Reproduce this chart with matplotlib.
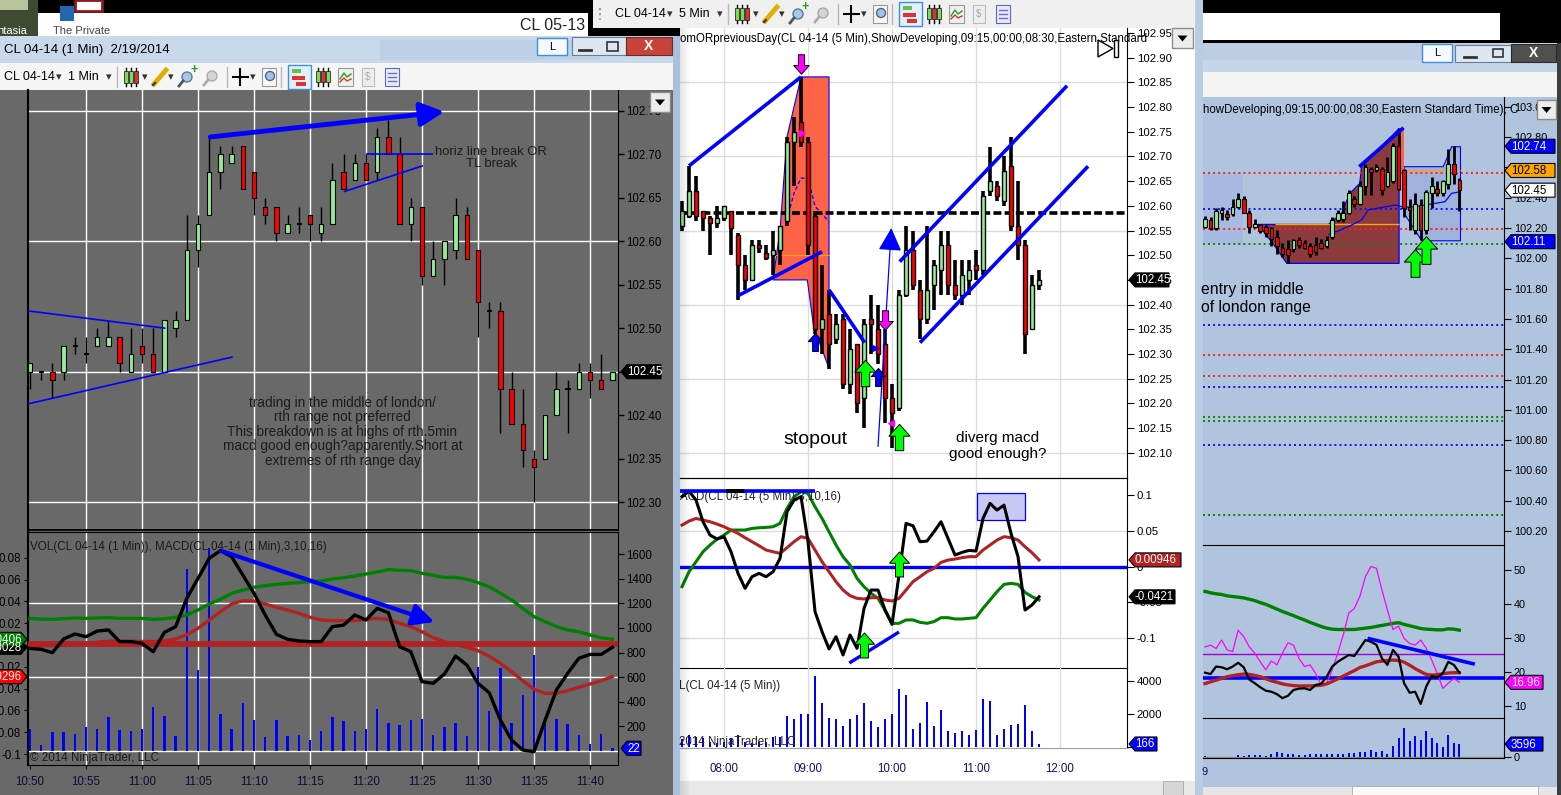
import numpy as np
import matplotlib
matplotlib.use('Agg')
import matplotlib.pyplot as plt
from matplotlib.patches import Rectangle, Polygon, Circle
from matplotlib.path import Path

plt.rcParams['font.family'] = ['Liberation Sans', 'DejaVu Sans']

# ---------------- left window: CL 04-14 (1 Min) ----------------
L_start, L_step = '10:50', 1
L_open = [102.45, 102.45, 102.45, 102.45, 102.48, 102.47, 102.48, 102.48, 102.49, 102.45,
          102.48, 102.47, 102.45, 102.50, 102.51, 102.59, 102.63, 102.68, 102.69, 102.71,
          102.68, 102.64, 102.64, 102.61, 102.62, 102.63, 102.61, 102.62, 102.68, 102.67,
          102.69, 102.68, 102.72, 102.70, 102.62, 102.64, 102.56, 102.58, 102.59, 102.63,
          102.59, 102.52, 102.52, 102.43, 102.39, 102.35, 102.35, 102.40, 102.43, 102.43,
          102.45, 102.44, 102.44]
L_high = [102.46, 102.45, 102.46, 102.48, 102.49, 102.49, 102.50, 102.51, 102.49, 102.50,
          102.50, 102.50, 102.51, 102.52, 102.63, 102.63, 102.72, 102.71, 102.71, 102.71,
          102.68, 102.65, 102.64, 102.63, 102.64, 102.63, 102.64, 102.69, 102.70, 102.70,
          102.70, 102.73, 102.74, 102.72, 102.65, 102.64, 102.60, 102.60, 102.65, 102.64,
          102.59, 102.53, 102.53, 102.45, 102.43, 102.36, 102.40, 102.45, 102.44, 102.46,
          102.46, 102.47, 102.45]
L_low = [102.43, 102.44, 102.42, 102.44, 102.47, 102.46, 102.48, 102.48, 102.45, 102.45,
         102.46, 102.45, 102.45, 102.49, 102.51, 102.57, 102.63, 102.66, 102.69, 102.66,
         102.63, 102.62, 102.60, 102.61, 102.61, 102.60, 102.60, 102.62, 102.66, 102.67,
         102.67, 102.67, 102.70, 102.62, 102.60, 102.55, 102.56, 102.55, 102.58, 102.58,
         102.49, 102.50, 102.38, 102.39, 102.34, 102.30, 102.35, 102.40, 102.38, 102.43,
         102.42, 102.43, 102.44]
L_close = [102.46, 102.45, 102.44, 102.48, 102.48, 102.47, 102.49, 102.49, 102.46, 102.47,
           102.47, 102.45, 102.51, 102.51, 102.59, 102.62, 102.68, 102.70, 102.70, 102.66,
           102.65, 102.63, 102.61, 102.62, 102.62, 102.62, 102.62, 102.67, 102.66, 102.69,
           102.67, 102.72, 102.70, 102.62, 102.64, 102.56, 102.58, 102.60, 102.63, 102.58,
           102.53, 102.52, 102.43, 102.39, 102.36, 102.34, 102.40, 102.43, 102.43, 102.45,
           102.44, 102.43, 102.45]
L_vol = [175, 47, 153, 153, 137, 195, 178, 274, 170, 162,
         178, 359, 285, 121, 1477, 655, 1650, 301, 178, 389,
         252, 112, 252, 121, 129, 88, 162, 274, 244, 162,
         178, 342, 227, 211, 252, 260, 129, 195, 230, 121,
         682, 326, 671, 227, 452, 778, 274, 260, 222, 129,
         55, 140, 22]
L_macd = [-0.0031, -0.0040, -0.0070, 0.0055, 0.0101, 0.0076, 0.0128, 0.0138, 0.0031, 0.0031,
          0.0015, -0.0061, 0.0116, 0.0168, 0.0428, 0.0611, 0.0795, 0.0865, 0.0810, 0.0642,
          0.0474, 0.0275, 0.0098, 0.0052, 0.0037, 0.0031, 0.0031, 0.0168, 0.0183, 0.0275,
          0.0229, 0.0336, 0.0296, -0.0015, -0.0061, -0.0336, -0.0351, -0.0266, -0.0101, -0.0183,
          -0.0351, -0.0437, -0.0688, -0.0871, -0.0963, -0.0978, -0.0688, -0.0413, -0.0260, -0.0122,
          -0.0086, -0.0086, -0.0021]
L_avg = [-0.0015, -0.0010, -0.0005, 0.0, 0.0008, 0.0015, 0.0025, 0.0035, 0.0037, 0.0035,
         0.0033, 0.0031, 0.0040, 0.0055, 0.0095, 0.0153, 0.0229, 0.0306, 0.0376, 0.0406,
         0.0403, 0.0376, 0.0345, 0.0321, 0.0290, 0.0254, 0.0229, 0.0223, 0.0223, 0.0223,
         0.0235, 0.0245, 0.0235, 0.0199, 0.0168, 0.0122, 0.0067, 0.0031, 0.0006, -0.0021,
         -0.0052, -0.0101, -0.0168, -0.0245, -0.0327, -0.0406, -0.0443, -0.0443, -0.0419, -0.0388,
         -0.0358, -0.0327, -0.0290]
L_green = [0.0244, 0.0238, 0.0235, 0.0241, 0.0248, 0.0244, 0.0248, 0.0251, 0.0244, 0.0244,
           0.0244, 0.0235, 0.0241, 0.0254, 0.0275, 0.0321, 0.0376, 0.0419, 0.0474, 0.0504,
           0.0529, 0.0544, 0.0556, 0.0565, 0.0572, 0.0581, 0.0587, 0.0605, 0.0617, 0.0633,
           0.0651, 0.0669, 0.0691, 0.0685, 0.0682, 0.0657, 0.0639, 0.0620, 0.0620, 0.0602,
           0.0572, 0.0535, 0.0474, 0.0413, 0.0336, 0.0260, 0.0214, 0.0168, 0.0138, 0.0122,
           0.0092, 0.0067, 0.0052]
L_zero_band = 0.0006
L_times = ['10:50', '10:55', '11:00', '11:05', '11:10', '11:15', '11:20', '11:25', '11:30', '11:35', '11:40']
L_price_ticks = [102.30, 102.35, 102.40, 102.45, 102.50, 102.55, 102.60, 102.65, 102.70, 102.75]
L_price_grid = [102.30, 102.45, 102.60, 102.75]
L_vol_ticks = [200, 400, 600, 800, 1000, 1200, 1400, 1600]
L_vol_grid = [0, 600, 1200]
L_macd_ticks = [-0.1, -0.08, -0.06, -0.04, -0.02, 0.0, 0.02, 0.04, 0.06, 0.08]
L_arrow_top = [(16.1, 102.720), (37.0, 102.749)]
L_hline = [(30.0, 102.700), (36.0, 102.700)]
L_tl = [(28.0, 102.657), (35.1, 102.687)]
L_tri_upper = [(-0.2, 102.520), (12.1, 102.500)]
L_tri_lower = [(-0.2, 102.413), (18.1, 102.467)]
L_macd_arrow = [(17.1, 0.0862), (36.1, 0.0211)]
L_flags_left = [('-0.0028', 'black'), ('0.0406', 'green'), ('-0.0296', 'red')]

# ---------------- middle window: CL 04-14 (5 Min) ----------------
M_start, M_step = '07:30', 5
M_open = [102.56, 102.58, 102.63, 102.59, 102.575, 102.565, 102.575, 102.59, 102.54, 102.48,
          102.45, 102.52, 102.505, 102.50, 102.51, 102.57, 102.73, 102.77, 102.73, 102.58,
          102.35, 102.38, 102.33, 102.37, 102.24, 102.32, 102.21, 102.37, 102.35, 102.32,
          102.21, 102.19, 102.42, 102.51, 102.43, 102.37, 102.44, 102.47, 102.52, 102.44,
          102.42, 102.45, 102.48, 102.47, 102.63, 102.64, 102.61, 102.68, 102.56, 102.52,
          102.35, 102.44]
M_high = [102.61, 102.68, 102.66, 102.59, 102.58, 102.60, 102.60, 102.59, 102.545, 102.50,
          102.53, 102.53, 102.52, 102.55, 102.56, 102.74, 102.78, 102.86, 102.74, 102.59,
          102.48, 102.43, 102.38, 102.38, 102.35, 102.32, 102.37, 102.42, 102.40, 102.35,
          102.24, 102.43, 102.56, 102.55, 102.45, 102.56, 102.49, 102.55, 102.55, 102.49,
          102.49, 102.49, 102.51, 102.63, 102.72, 102.65, 102.70, 102.74, 102.65, 102.53,
          102.46, 102.47]
M_low = [102.55, 102.575, 102.57, 102.55, 102.50, 102.555, 102.57, 102.50, 102.41, 102.43,
         102.45, 102.505, 102.49, 102.46, 102.48, 102.56, 102.64, 102.72, 102.50, 102.34,
         102.30, 102.27, 102.32, 102.23, 102.22, 102.18, 102.15, 102.30, 102.28, 102.16,
         102.11, 102.185, 102.415, 102.43, 102.33, 102.36, 102.39, 102.42, 102.42, 102.41,
         102.40, 102.42, 102.45, 102.46, 102.62, 102.61, 102.60, 102.55, 102.49, 102.30,
         102.35, 102.43]
M_close = [102.59, 102.63, 102.58, 102.575, 102.565, 102.575, 102.60, 102.555, 102.48, 102.45,
           102.52, 102.515, 102.495, 102.51, 102.56, 102.73, 102.75, 102.73, 102.52, 102.35,
           102.37, 102.32, 102.36, 102.24, 102.31, 102.20, 102.36, 102.36, 102.30, 102.21,
           102.18, 102.42, 102.51, 102.44, 102.37, 102.43, 102.48, 102.52, 102.44, 102.42,
           102.46, 102.47, 102.47, 102.62, 102.65, 102.62, 102.67, 102.56, 102.52, 102.34,
           102.44, 102.45]
M_macd = [0.0979, 0.1056, 0.0930, 0.0628, 0.0442, 0.0386, 0.0419, 0.0209, -0.0093, -0.0302,
          -0.0140, -0.0093, -0.0140, -0.0070, 0.0116, 0.0767, 0.0930, 0.0977, 0.0349, -0.0628,
          -0.0907, -0.1149, -0.0977, -0.1233, -0.0953, -0.1140, -0.0581, -0.0326, -0.0326, -0.0605,
          -0.0805, -0.0116, 0.0605, 0.0572, 0.0349, 0.0358, 0.0488, 0.0628, 0.0395, 0.0163,
          0.0200, 0.0228, 0.0219, 0.0674, 0.0884, 0.0791, 0.0860, 0.0465, 0.0140, -0.0605,
          -0.0535, -0.0421]
M_green = [-0.0279, -0.0070, 0.0070, 0.0209, 0.0302, 0.0386, 0.0442, 0.0512, 0.0512, 0.0512,
           0.0535, 0.0544, 0.0549, 0.0558, 0.0605, 0.0814, 0.0977, 0.1047, 0.1023, 0.0837,
           0.0674, 0.0488, 0.0302, 0.0140, 0.0023, -0.0163, -0.0279, -0.0372, -0.0442, -0.0605,
           -0.0791, -0.0791, -0.0744, -0.0744, -0.0777, -0.0791, -0.0767, -0.0712, -0.0712, -0.0730,
           -0.0730, -0.0721, -0.0712, -0.0581, -0.0465, -0.0349, -0.0247, -0.0233, -0.0247, -0.0358,
           -0.0419, -0.0465]
M_red = [0.0581, 0.0637, 0.0674, 0.0651, 0.0628, 0.0595, 0.0558, 0.0512, 0.0465, 0.0405,
         0.0349, 0.0293, 0.0233, 0.0209, 0.0186, 0.0265, 0.0349, 0.0419, 0.0395, 0.0233,
         0.0070, -0.0070, -0.0209, -0.0326, -0.0405, -0.0442, -0.0451, -0.0433, -0.0433, -0.0465,
         -0.0479, -0.0442, -0.0326, -0.0209, -0.0140, -0.0070, -0.0023, 0.0060, 0.0093, 0.0107,
         0.0126, 0.0140, 0.0140, 0.0233, 0.0302, 0.0372, 0.0419, 0.0405, 0.0372, 0.0279,
         0.0195, 0.0095]
M_vol = [500, 720, 620, 510, 300, 250, 300, 520, 720, 300,
         250, 280, 300, 620, 620, 1850, 1700, 2010, 2010, 4300,
         2690, 1740, 1680, 1290, 1700, 1950, 2690, 1580, 1230, 1680,
         2010, 3550, 3140, 1090, 1440, 2750, 1290, 2260, 960, 860,
         960, 720, 1030, 2930, 2810, 720, 1090, 1330, 1390, 2520,
         960, 166]
M_times = ['08:00', '09:00', '10:00', '11:00', '12:00']
M_price_ticks = [102.10, 102.15, 102.20, 102.25, 102.30, 102.35, 102.40, 102.45, 102.50,
                 102.55, 102.60, 102.65, 102.70, 102.75, 102.80, 102.85, 102.90, 102.95]
M_price_grid = [102.10, 102.25, 102.40, 102.55, 102.70, 102.85]
M_macd_ticks = [-0.1, -0.05, 0.0, 0.05, 0.1]
M_macd_grid = [-0.1, 0.05]
M_vol_ticks = [0, 2000, 4000]
M_prev_level = 102.586
M_orb_poly = [(13.0, 102.45), (14.0, 102.551), (15.0, 102.740), (17.0, 102.861), (21.0, 102.861),
              (21.0, 102.271), (18.8, 102.355), (17.9, 102.45)]
M_orb_mid = [(13.0, 102.50), (21.0, 102.50)]
M_dev_line = [(15, 102.572), (16, 102.626), (17, 102.656), (18, 102.656), (19, 102.599), (21, 102.568)]
M_trend = [[(1.0, 102.681), (17.0, 102.861)],
           [(8.0, 102.418), (20.0, 102.507)],
           [(21.0, 102.430), (26.1, 102.323)],
           [(31.1, 102.487), (55.0, 102.843)],
           [(34.0, 102.323), (58.0, 102.680)]]
M_thin_arrow = [(28.0, 102.113), (29.9, 102.555)]
M_arrows_down_magenta = [(17.0, 102.888), (29.0, 102.369)]
M_arrows_up_blue = [(19.05, 102.325), (28.0, 102.254)]
M_arrows_up_green = [(26.1, 102.262), (31.0, 102.132)]
M_macd_arrows = [(26.0, -0.1094), (31.0, 0.0031)]
M_macd_trend = [(23.9, -0.1345), (31.0, -0.0912)]
M_macd_box = [(42.1, 0.0652), (49.0, 0.1029)]
M_macd_head = [(-0.3, 0.1057), (19.0, 0.1057)]

# ---------------- right window ----------------
R_open = [102.21, 102.25, 102.20, 102.30, 102.29, 102.29, 102.34, 102.39, 102.30, 102.21,
          102.22, 102.21, 102.20, 102.14, 102.07, 102.06, 102.06, 102.12, 102.10, 102.08,
          102.09, 102.10, 102.08, 102.14, 102.25, 102.26, 102.30, 102.39, 102.36, 102.48,
          102.59, 102.58, 102.59, 102.48, 102.51, 102.74, 102.58, 102.34, 102.19, 102.35,
          102.19, 102.43, 102.46, 102.43, 102.49, 102.62, 102.52]
R_high = [102.28, 102.27, 102.33, 102.34, 102.32, 102.39, 102.43, 102.41, 102.32, 102.26,
          102.23, 102.22, 102.21, 102.19, 102.10, 102.12, 102.13, 102.14, 102.12, 102.10,
          102.14, 102.13, 102.15, 102.27, 102.32, 102.38, 102.45, 102.41, 102.51, 102.62,
          102.60, 102.62, 102.60, 102.67, 102.76, 102.86, 102.59, 102.39, 102.43, 102.39,
          102.45, 102.54, 102.51, 102.52, 102.72, 102.74, 102.53]
R_low = [102.20, 102.19, 102.19, 102.25, 102.25, 102.28, 102.33, 102.30, 102.17, 102.20,
         102.17, 102.14, 102.08, 102.03, 102.01, 101.97, 102.04, 102.07, 102.06, 102.01,
         102.02, 102.06, 102.07, 102.13, 102.24, 102.24, 102.29, 102.34, 102.35, 102.42,
         102.42, 102.57, 102.42, 102.47, 102.50, 102.45, 102.27, 102.19, 102.16, 102.12,
         102.16, 102.33, 102.41, 102.41, 102.46, 102.49, 102.31]
R_close = [102.26, 102.20, 102.31, 102.32, 102.27, 102.34, 102.39, 102.30, 102.21, 102.23,
           102.18, 102.17, 102.13, 102.08, 102.03, 102.02, 102.12, 102.09, 102.07, 102.03,
           102.04, 102.07, 102.12, 102.25, 102.30, 102.30, 102.43, 102.36, 102.48, 102.60,
           102.57, 102.60, 102.45, 102.57, 102.74, 102.46, 102.33, 102.32, 102.36, 102.19,
           102.44, 102.48, 102.43, 102.51, 102.62, 102.56, 102.45]
R_green = [43.7, 43.3, 43.0, 42.8, 42.4, 42.2, 42.0, 41.8, 41.4, 41.0,
           40.4, 39.9, 39.2, 38.5, 37.8, 37.2, 36.6, 35.9, 35.3, 34.6,
           34.0, 33.4, 32.9, 32.6, 32.5, 32.5, 32.5, 32.5, 32.7, 32.9,
           33.1, 33.4, 33.7, 34.0, 34.3, 34.5, 34.0, 33.6, 33.2, 32.8,
           32.6, 32.5, 32.4, 32.4, 32.7, 32.6, 32.3]
R_red = [16.6, 17.1, 17.6, 18.1, 18.6, 18.9, 19.2, 19.4, 19.3, 19.0,
         18.6, 18.0, 17.4, 17.0, 16.5, 16.2, 16.0, 15.9, 15.9, 15.9,
         16.0, 16.1, 16.5, 17.2, 18.0, 18.8, 19.6, 20.4, 21.3, 21.8,
         22.4, 23.0, 23.2, 23.4, 23.5, 23.4, 22.9, 22.0, 21.0, 20.1,
         19.3, 19.1, 19.2, 19.5, 19.7, 19.8, 19.8]
R_black = [19.8, 19.4, 21.6, 21.4, 20.8, 21.6, 22.7, 21.4, 17.8, 16.7,
           15.5, 14.5, 14.2, 13.5, 12.3, 13.0, 14.7, 15.1, 15.2, 14.7,
           16.2, 16.5, 18.6, 21.6, 23.0, 24.0, 25.0, 24.7, 27.0, 29.4,
           28.9, 28.0, 24.0, 22.1, 26.5, 24.5, 16.7, 13.9, 14.2, 10.6,
           15.7, 18.8, 18.4, 19.6, 23.0, 22.1, 19.8]
R_magenta = [27.4, 27.9, 26.9, 29.4, 26.5, 26.0, 32.3, 30.4, 27.4, 25.5,
             23.0, 20.6, 23.3, 22.1, 25.5, 28.6, 27.9, 24.0, 21.6, 22.1,
             19.6, 16.2, 16.7, 20.6, 25.5, 30.9, 37.3, 38.7, 42.2, 48.0,
             51.0, 50.5, 44.1, 38.2, 32.5, 33.5, 29.9, 28.4, 27.9, 29.4,
             27.0, 23.5, 19.6, 15.2, 16.7, 18.1, 16.96]
R_vol = [150, 0, 0, 0, 0, 0, 380, 100, 470, 470,
         470, 100, 760, 1420, 1135, 760, 660, 470, 470, 660,
         760, 660, 760, 660, 660, 760, 1135, 946, 1325, 1325,
         1890, 1325, 1700, 760, 3030, 5390, 8040, 4450, 5870, 4730,
         7280, 5200, 3970, 2650, 6150, 3780, 3596]
R_price_ticks = [100.2, 100.4, 100.6, 100.8, 101.0, 101.2, 101.4, 101.6, 101.8, 102.0,
                 102.2, 102.4, 102.6, 102.8, 103.0]
R_ind_ticks = [10, 20, 30, 40, 50]
R_red_levels = [102.563, 102.193, 101.362, 101.223]
R_blue_levels = [102.325, 101.560, 101.152, 100.768]
R_green_levels = [102.094, 100.953, 100.926, 100.306]
R_london_box = [(-0.4, 102.094), (6.9, 102.563)]
R_rth_poly = [(9.6, 102.224), (22.3, 102.224), (24.7, 102.297), (26.2, 102.429), (28.0, 102.495),
              (28.3, 102.605), (35.1, 102.857), (35.1, 101.967), (14.8, 101.967), (12.7, 102.077)]
R_rth_tip = [(35.1, 102.563), (35.1, 102.857), (36.0, 102.857), (36.0, 102.563)]
R_dev_poly = [(36.0, 102.605), (43.1, 102.605), (44.6, 102.737), (46.2, 102.737), (46.2, 102.116),
              (39.2, 102.116), (36.0, 102.297)]
R_mid_line = [(22.3, 102.154), (25.9, 102.209), (28.3, 102.253), (29.5, 102.319), (34.4, 102.352),
              (36.0, 102.337), (38.0, 102.341), (41.6, 102.363), (43.4, 102.374), (44.6, 102.429),
              (46.2, 102.440)]
R_orange = [[(12.7, 102.224), (35.1, 102.224)], [(36.0, 102.583), (46.2, 102.583)]]
R_trend = [(27.9, 102.605), (35.9, 102.862)]
R_arrows_up_green = [(37.9, 101.969), (39.9, 102.055)]
R_flags = [(102.74, '102.74', '#0000ff', 'white'), (102.58, '102.58', '#ffa500', 'black'),
           (102.45, '102.45', 'white', 'black'), (102.11, '102.11', '#0000ff', 'white')]
R_ind_level = 25.2
R_ind_zero = 18.1
R_ind_trend = [(29.4, 29.9), (48.8, 22.3)]

W, H = 1561, 795
fig = plt.figure(figsize=(W / 100, H / 100), dpi=100, facecolor='black')

bg = fig.add_axes([0, 0, 1, 1], zorder=0)
top = fig.add_axes([0, 0, 1, 1], zorder=50)
for a in (bg, top):
    a.set_xlim(0, W)
    a.set_ylim(H, 0)
    a.axis('off')


def box(ax, x0, y0, x1, y1, fc, ec='none', lw=0, z=1, alpha=1):
    ax.add_patch(Rectangle((x0, y0), x1 - x0, y1 - y0, facecolor=fc, edgecolor=ec,
                           linewidth=lw, zorder=z, alpha=alpha))


def panel(x0, y0, x1, y1, z=5):
    ax = fig.add_axes([x0 / W, 1 - y1 / H, (x1 - x0) / W, (y1 - y0) / H], zorder=z)
    ax.patch.set_alpha(0)
    return ax


def bar_index(t, start, step):
    h, m = map(int, t.split(':'))
    h0, m0 = map(int, start.split(':'))
    return ((h * 60 + m) - (h0 * 60 + m0)) / step


def candles(ax, o, h, l, c, width, wick_lw, edge_lw=0.8, min_h=0.0012):
    o, h, l, c = map(np.asarray, (o, h, l, c))
    x = np.arange(len(o))
    ax.vlines(x, l, h, color='black', lw=wick_lw, zorder=3)
    cols = np.where(c >= o, '#90ee90', '#ff0000')
    ax.bar(x, np.maximum(np.abs(c - o), min_h), width, bottom=np.minimum(o, c),
           color=cols, edgecolor='black', linewidth=edge_lw, zorder=4)


def seg(ax, pts, **kw):
    xs, ys = zip(*pts)
    ax.plot(xs, ys, solid_capstyle='butt', **kw)


def style(ax, spines_on, color='black'):
    for s, sp in ax.spines.items():
        sp.set_visible(s in spines_on)
        sp.set_color(color)


arrow_up = Path([(0, 1), (0.8, 0.1), (0.32, 0.1), (0.32, -1), (-0.32, -1), (-0.32, 0.1),
                 (-0.8, 0.1), (0, 1)], closed=True)
arrow_dn = Path([(0, -1), (0.8, -0.1), (0.32, -0.1), (0.32, 1), (-0.32, 1), (-0.32, -0.1),
                 (-0.8, -0.1), (0, -1)], closed=True)


def marks(ax, pts, path, fc, size):
    for x, y in pts:
        ax.plot([x], [y], marker=path, markersize=size, markerfacecolor=fc,
                markeredgecolor='black', markeredgewidth=0.7, zorder=8, clip_on=False)


def flag(ax, x_px, value, label, fc, tc='white', w=40, h=14, fs=8.3, left=True):
    y = H - ax.transData.transform((0, value))[1]
    if left:
        pts = [(x_px, y), (x_px + 6, y - h / 2), (x_px + w, y - h / 2), (x_px + w, y + h / 2),
               (x_px + 6, y + h / 2)]
        tx, ha = x_px + 6, 'left'
    else:
        pts = [(x_px, y), (x_px - 6, y - h / 2), (x_px - w, y - h / 2), (x_px - w, y + h / 2),
               (x_px - 6, y + h / 2)]
        tx, ha = x_px - 5, 'right'
    top.add_patch(Polygon(pts, closed=True, facecolor=fc, edgecolor='black', lw=0.8, zorder=5))
    top.text(tx, y + 0.5, label, color=tc, fontsize=fs, ha=ha, va='center', zorder=6)


def dropdown(x0, y0, x1, y1):
    box(top, x0, y0, x1, y1, '#ececec', ec='#8c8c8c', lw=1, z=7)
    cx, cy = (x0 + x1) / 2, (y0 + y1) / 2
    top.add_patch(Polygon([(cx - 5, cy - 2.5), (cx + 5, cy - 2.5), (cx, cy + 3.5)], closed=True,
                          facecolor='black', zorder=8))


def toolbar(dx, yc, period):
    t = bg
    t.text(dx + 4, yc, 'CL 04-14', fontsize=9, va='center', color='black', zorder=3)
    t.text(dx + 56, yc, '▾', fontsize=8, va='center', color='#333', zorder=3)
    t.text(dx + 68, yc, period, fontsize=9, va='center', color='black', zorder=3)
    t.text(dx + 106, yc, '▾', fontsize=8, va='center', color='#333', zorder=3)
    for sx in (dx + 117, dx + 227, dx + 281):
        t.plot([sx, sx], [yc - 10, yc + 10], color='#b8b8b8', lw=1, zorder=3)
    for k, cx in enumerate((dx + 126, dx + 131, dx + 136)):
        t.plot([cx, cx], [yc - 9, yc + 9], color='black', lw=1, zorder=3)
        box(t, cx - 2, yc - 6, cx + 2, yc + 6, '#7ed957' if k != 2 else '#e03030', ec='#2a2a2a', lw=0.6, z=4)
    t.text(dx + 142, yc, '▾', fontsize=8, va='center', color='#333', zorder=3)
    t.plot([dx + 154, dx + 166], [yc + 7, yc - 7], color='#e0b000', lw=3.5, zorder=3)
    t.plot([dx + 153, dx + 155], [yc + 8, yc + 6], color='#333', lw=1.5, zorder=4)
    t.text(dx + 168, yc, '▾', fontsize=8, va='center', color='#333', zorder=3)
    t.add_patch(Circle((dx + 187, yc), 5, facecolor='#a9c7e8', edgecolor='#5a7a9a', lw=1, zorder=3))
    t.plot([dx + 183, dx + 179], [yc + 4, yc + 9], color='#555', lw=2, zorder=3)
    t.text(dx + 194, yc - 7, '+', fontsize=9, color='#20a020', ha='center', va='center', weight='bold', zorder=4)
    t.add_patch(Circle((dx + 212, yc - 1), 5, facecolor='#d4d4d4', edgecolor='#aaa', lw=1, zorder=3))
    t.plot([dx + 208, dx + 204], [yc + 3, yc + 8], color='#aaa', lw=2, zorder=3)
    t.plot([dx + 233, dx + 248], [yc, yc], color='black', lw=1.5, zorder=3)
    t.plot([dx + 240.5, dx + 240.5], [yc - 8, yc + 8], color='black', lw=1.5, zorder=3)
    t.text(dx + 250, yc, '▾', fontsize=8, va='center', color='#333', zorder=3)
    box(t, dx + 262, yc - 9, dx + 276, yc + 9, '#f8f8f8', ec='#999', lw=0.8, z=3)
    t.add_patch(Circle((dx + 270, yc - 1), 4.5, facecolor='#9ec3e6', edgecolor='#567', lw=1, zorder=4))
    box(t, dx + 288, yc - 12, dx + 311, yc + 12, '#e3f0fc', ec='#3d8fe0', lw=1, z=3)
    box(t, dx + 292, yc - 8, dx + 301, yc - 4, '#60c050', z=4)
    box(t, dx + 292, yc - 1, dx + 305, yc + 3, '#e03030', z=4)
    box(t, dx + 296, yc + 5, dx + 306, yc + 9, '#e03030', z=4)
    for k, cx in enumerate((dx + 318, dx + 323, dx + 328)):
        t.plot([cx, cx], [yc - 9, yc + 9], color='black', lw=1, zorder=3)
        box(t, cx - 2, yc - 6, cx + 2, yc + 5, '#7ed957' if k != 1 else '#e03030', ec='#2a2a2a', lw=0.6, z=4)
    box(t, dx + 338, yc - 9, dx + 353, yc + 9, '#eef2ee', ec='#999', lw=0.8, z=3)
    t.plot([dx + 340, dx + 344, dx + 347, dx + 351], [yc + 2, yc - 4, yc, yc - 3], color='#20a020', lw=1, zorder=4)
    t.plot([dx + 340, dx + 344, dx + 347, dx + 351], [yc + 5, yc + 1, yc + 4, yc + 2], color='#e03030', lw=1, zorder=4)
    box(t, dx + 362, yc - 9, dx + 374, yc + 9, '#eeeeee', ec='#bbb', lw=0.8, z=3)
    t.text(dx + 368, yc, '$', fontsize=7, ha='center', va='center', color='#aaa', zorder=4)
    box(t, dx + 385, yc - 9, dx + 399, yc + 9, '#e9e9ff', ec='#5a6acc', lw=0.8, z=3)
    for yy in (yc - 4, yc, yc + 4):
        t.plot([dx + 388, dx + 396], [yy, yy], color='#7070c0', lw=1, zorder=4)


# ---------------- window chrome ----------------
box(bg, 0, 0, 38, 36, '#3f4a33')
box(bg, 0, 0, 28, 10, '#b9c39c')
box(bg, 38, 13, 588, 36, 'white')
box(bg, 60, 6, 74, 21, '#2566b0')
box(bg, 75, 0, 102, 11, 'white', ec='#8a1a1a', lw=2)
bg.text(-3, 31, 'ntasia', fontsize=8, color='white', va='center', zorder=3)
bg.text(53, 31, 'The Private', fontsize=8, color='#444', va='center', zorder=3)
bg.text(520, 25, 'CL 05-13', fontsize=11.5, color='#222', va='center', zorder=3)
box(bg, 588, 0, 593, 36, 'black', z=2)
box(bg, 593, 0, 1195, 28, '#f0f0f0')
bg.plot([600, 600], [8, 20], color='#999', lw=1.5, ls=(0, (1, 1.5)), zorder=3)
toolbar(611, 14, '5 Min')

box(bg, 0, 36, 676, 63, '#c9d8ea')
box(bg, 380, 40, 600, 60, '#b8cbe2', alpha=0.6)
bg.text(4, 49.5, 'CL 04-14 (1 Min)  2/19/2014', fontsize=9.5, color='black', va='center', zorder=3)
box(bg, 537, 38, 567, 55, '#f6f9fd', ec='#3d8fe0', lw=1, z=3)
bg.text(552, 46.5, 'L', fontsize=8, ha='center', va='center', zorder=4)
box(bg, 572, 37, 626, 55, '#dde7f2', ec='#6b7b90', lw=0.8, z=3)
bg.plot([579, 591], [50, 50], color='#333', lw=2, zorder=4)
box(bg, 607, 42, 618, 51, 'none', ec='#333', lw=1.2, z=4)
box(bg, 626, 37, 672, 55, '#c8443a', ec='#6a2a2a', lw=0.8, z=3)
bg.text(649, 46, 'X', fontsize=10, color='white', ha='center', va='center', weight='bold', zorder=4)
box(bg, 0, 63, 676, 90, '#f5f5f5')
toolbar(0, 77, '1 Min')
box(bg, 0, 90, 676, 795, '#696969')
box(bg, 673, 36, 680, 795, '#a9c1dd', z=2)

box(bg, 680, 28, 1195, 781, 'white')
box(bg, 680, 781, 1195, 795, '#e8e8e8')
box(bg, 1163, 781, 1183, 795, '#d6d6d6', ec='#aaa', lw=0.6, z=2)
box(bg, 1195, 0, 1203, 795, '#b8cce3')

box(bg, 1203, 13, 1500, 40, 'white')
box(bg, 1203, 43, 1557, 72, '#c6d6ea')
box(bg, 1203, 43, 1500, 60, '#b5c8e0', alpha=0.5)
box(bg, 1422, 44, 1452, 62, '#f6f9fd', ec='#3d8fe0', lw=1, z=3)
bg.text(1437, 53, 'L', fontsize=8, ha='center', va='center', zorder=4)
box(bg, 1455, 45, 1511, 62, '#dde7f2', ec='#6b7b90', lw=0.8, z=3)
bg.plot([1464, 1476], [57, 57], color='#333', lw=2, zorder=4)
box(bg, 1493, 49, 1503, 57, 'none', ec='#333', lw=1.2, z=4)
box(bg, 1511, 44, 1556, 62, '#505050', ec='#2a2a2a', lw=0.8, z=3)
bg.text(1534, 53, 'X', fontsize=10, color='white', ha='center', va='center', weight='bold', zorder=4)
box(bg, 1203, 72, 1557, 97, '#f4f4f4')
box(bg, 1203, 97, 1557, 787, '#b0c4de')
box(bg, 1203, 787, 1557, 795, '#e6e6e6')
box(bg, 1352, 786, 1538, 795, '#f9f9f9', ec='#aaa', lw=0.6, z=2)
box(bg, 1557, 43, 1561, 795, '#3c3c3c')

# ---------------- left price panel ----------------
axLp = panel(28, 90, 618, 530)
axLp.set_xlim(-0.18, 52.5)
axLp.set_ylim(102.268, 102.774)
L_idx = [bar_index(t, L_start, L_step) for t in L_times]
for v in L_price_grid:
    axLp.axhline(v, color='white', lw=1, zorder=1)
for t in L_idx[1:]:
    axLp.axvline(t, color='white', lw=1, zorder=1)
candles(axLp, L_open, L_high, L_low, L_close, 0.4, 1.0)
axLp.annotate('', xy=L_arrow_top[1], xytext=L_arrow_top[0],
              arrowprops=dict(arrowstyle='-|>,head_length=0.6,head_width=0.3', color='#0000ff',
                              lw=3.5, mutation_scale=24, shrinkA=0, shrinkB=0), zorder=6)
seg(axLp, L_hline, color='#0000ff', lw=1.2, zorder=6)
seg(axLp, L_tl, color='#0000ff', lw=1.2, zorder=6)
seg(axLp, L_tri_upper, color='#0000ff', lw=1.2, zorder=6)
seg(axLp, L_tri_lower, color='#0000ff', lw=1.2, zorder=6)
axLp.yaxis.tick_right()
axLp.set_yticks(L_price_ticks)
axLp.set_yticklabels(['%.2f' % v for v in L_price_ticks])
axLp.set_xticks([])
axLp.tick_params(axis='y', colors='black', labelsize=8.3, length=4, width=1, pad=2)
style(axLp, ['left', 'right', 'bottom'])
axLp.spines['left'].set_linewidth(1.5)
axLp.spines['bottom'].set_linewidth(1.3)
axLp.text(0.785, 0.845, 'horiz line break OR\nTL break', transform=axLp.transAxes, fontsize=9.4,
          color='#1c1c1c', ha='center', va='center', linespacing=1.05)
axLp.text(0.533, 0.223,
          'trading in the middle of london/\nrth range not preferred\nThis breakdown is at highs of rth.5min\n'
          'macd good enough?apparently.Short at\nextremes of rth range day',
          transform=axLp.transAxes, fontsize=9.8, color='#1c1c1c', ha='center', va='center',
          linespacing=1.05)

# ---------------- left indicator panel ----------------
axLv = panel(28, 532, 618, 765)
axLm = panel(28, 532, 618, 765, z=6)
for a in (axLv, axLm):
    a.set_xlim(-0.18, 52.5)
axLv.set_ylim(-114, 1780)
axLm.set_ylim(-0.110, 0.1036)
for t in L_idx[1:]:
    axLv.axvline(t, color='white', lw=1, zorder=1)
for v in L_vol_grid:
    axLv.axhline(v, color='white', lw=1, zorder=1)
axLv.bar(np.arange(len(L_vol)), L_vol, 0.2, color='#0000ff', zorder=3)
axLm.axhline(L_zero_band, color='#b22222', lw=4.2, zorder=3)
axLm.plot(L_green, color='#008000', lw=2.4, zorder=4)
axLm.plot(L_avg, color='#b22222', lw=2.4, zorder=4)
axLm.plot(L_macd, color='black', lw=2.4, zorder=5)
axLm.annotate('', xy=L_macd_arrow[1], xytext=L_macd_arrow[0],
              arrowprops=dict(arrowstyle='-|>,head_length=0.6,head_width=0.3', color='#0000ff',
                              lw=3, mutation_scale=22, shrinkA=0, shrinkB=0), zorder=6)
axLv.yaxis.tick_right()
axLv.set_yticks(L_vol_ticks)
axLv.tick_params(axis='y', colors='black', labelsize=8.3, length=4, pad=2)
axLv.set_xticks(L_idx)
axLv.set_xticklabels(L_times)
axLv.tick_params(axis='x', colors='#0b0b3a', labelsize=8.3, length=3, pad=5)
style(axLv, ['left', 'right', 'bottom', 'top'])
axLv.spines['left'].set_linewidth(1.5)
axLm.set_yticks(L_macd_ticks)
axLm.set_yticklabels(['%g' % v for v in L_macd_ticks])
axLm.set_xticks([])
axLm.tick_params(axis='y', colors='black', labelsize=8.3, length=3, pad=2)
style(axLm, [])
axLm.text(0.004, 0.935, 'VOL(CL 04-14 (1 Min)), MACD(CL 04-14 (1 Min),3,10,16)', transform=axLm.transAxes,
          fontsize=8.4, color='#1a1a1a', va='center')
axLm.text(0.004, 0.03, '© 2014 NinjaTrader, LLC', transform=axLm.transAxes, fontsize=8.4,
          color='#1a1a1a', va='center')

# ---------------- middle price panel ----------------
axMp = panel(680, 28, 1127, 478)
axMp.set_xlim(-0.29, 63.57)
axMp.set_ylim(102.049, 102.960)
M_idx = [bar_index(t, M_start, M_step) for t in M_times]
for v in M_price_grid:
    axMp.axhline(v, color='#dcdcdc', lw=1, zorder=0)
for t in M_idx:
    axMp.axvline(t, color='#dcdcdc', lw=1, zorder=0)
axMp.add_patch(Polygon(M_orb_poly, closed=True, facecolor='#ff6347', edgecolor='#0000ff', lw=0.8, zorder=1))
seg(axMp, M_orb_mid, color='#ffa500', lw=0.8, zorder=2)
seg(axMp, M_dev_line, color='#0000ff', lw=0.9, ls=(0, (3, 2)), zorder=2)
axMp.axhline(M_prev_level, color='black', lw=2.6, ls=(0, (2.2, 0.9)), zorder=2)
candles(axMp, M_open, M_high, M_low, M_close, 0.58, 2.6, edge_lw=1.0)
for tr in M_trend:
    seg(axMp, tr, color='#0000ff', lw=2.6, zorder=6)
axMp.annotate('', xy=M_thin_arrow[1], xytext=M_thin_arrow[0],
              arrowprops=dict(arrowstyle='-|>,head_length=0.55,head_width=0.28', color='#0000ff',
                              lw=0.9, mutation_scale=26, shrinkA=0, shrinkB=0), zorder=6)
marks(axMp, M_arrows_down_magenta, arrow_dn, '#ff00ff', 14)
marks(axMp, M_arrows_up_blue, arrow_up, '#0000ff', 13)
marks(axMp, M_arrows_up_green, arrow_up, '#00ff00', 19)
axMp.plot([17.15], [102.748], marker='>', color='#ff00ff', markersize=5, zorder=8)
axMp.plot([29.9], [102.161], marker='<', color='#ff00ff', markersize=5, zorder=8)
axMp.plot([27.6], [102.313], marker='>', color='#0000ff', markersize=5, zorder=8)
axMp.yaxis.tick_right()
axMp.set_yticks(M_price_ticks)
axMp.set_yticklabels(['%.2f' % v for v in M_price_ticks])
axMp.set_xticks([])
axMp.tick_params(axis='y', colors='black', labelsize=8.2, length=5, pad=2)
style(axMp, ['right', 'bottom'])
axMp.text(0.0, 0.975, 'omORpreviousDay(CL 04-14 (5 Min),ShowDeveloping,09:15,00:00,08:30,Eastern Standard',
          transform=axMp.transAxes, fontsize=8.3, color='black', va='center')
axMp.text(0.302, 0.085, 'stopout', transform=axMp.transAxes, fontsize=14, color='black', ha='center', va='center')
axMp.text(0.71, 0.071, 'diverg macd\ngood enough?', transform=axMp.transAxes, fontsize=11,
          color='black', ha='center', va='center', linespacing=1.2)

# ---------------- middle macd panel ----------------
axMm = panel(680, 478, 1127, 668)
axMm.set_xlim(-0.29, 63.57)
axMm.set_ylim(-0.1415, 0.1239)
for v in M_macd_grid:
    axMm.axhline(v, color='#dcdcdc', lw=1, zorder=0)
for t in M_idx:
    axMm.axvline(t, color='#dcdcdc', lw=1, zorder=0)
(bx0, by0), (bx1, by1) = M_macd_box
axMm.add_patch(Rectangle((bx0, by0), bx1 - bx0, by1 - by0, facecolor='#c8c8f4', edgecolor='#0000ff',
                         lw=0.9, zorder=1))
axMm.axhline(0, color='#0000ff', lw=2.4, zorder=2)
axMm.plot(M_green, color='#008000', lw=2.2, zorder=3)
axMm.plot(M_red, color='#b22222', lw=2.2, zorder=3)
axMm.plot(M_macd, color='black', lw=2.2, zorder=4)
seg(axMm, M_macd_trend, color='#0000ff', lw=2.4, zorder=5)
seg(axMm, M_macd_head, color='#0000ff', lw=2.6, zorder=5)
axMm.add_patch(Rectangle((6.3, 0.1025), 2.6, 0.0065, facecolor='black', zorder=6))
marks(axMm, M_macd_arrows, arrow_up, '#00ff00', 18)
axMm.yaxis.tick_right()
axMm.set_yticks(M_macd_ticks)
axMm.set_yticklabels(['%g' % v for v in M_macd_ticks])
axMm.set_xticks([])
axMm.tick_params(axis='y', colors='black', labelsize=8.2, length=5, pad=2)
style(axMm, ['right', 'bottom', 'top'])
axMm.text(0.0, 0.9, 'ACD(CL 04-14 (5 Min),3,10,16)', transform=axMm.transAxes, fontsize=8.3,
          color='#222', va='center')

# ---------------- middle volume panel ----------------
axMv = panel(680, 668, 1127, 748)
axMv.set_xlim(-0.29, 63.57)
axMv.set_ylim(-80, 4813)
for t in M_idx:
    axMv.axvline(t, color='#dcdcdc', lw=1, zorder=0)
axMv.bar(np.arange(len(M_vol)), M_vol, 0.35, color='#0000ff', zorder=3)
axMv.yaxis.tick_right()
axMv.set_yticks(M_vol_ticks)
axMv.tick_params(axis='y', colors='black', labelsize=8.2, length=5, pad=2)
axMv.set_xticks(M_idx)
axMv.set_xticklabels(M_times)
axMv.tick_params(axis='x', colors='#10106a', labelsize=8.3, length=0, pad=11)
style(axMv, ['right', 'bottom'])
axMv.spines['bottom'].set_color('#a0a0a0')
axMv.text(-0.003, 0.78, 'L(CL 04-14 (5 Min))', transform=axMv.transAxes, fontsize=8.3, color='#222', va='center')
axMv.text(-0.003, 0.07, '2014 NinjaTrader, LLC', transform=axMv.transAxes, fontsize=8.3,
          color='#222', va='center')

# ---------------- right price panel ----------------
axRp = panel(1203, 97, 1504, 545)
axRp.set_xlim(-0.36, 54.07)
axRp.set_ylim(100.108, 103.065)
(lx0, ly0), (lx1, ly1) = R_london_box
axRp.add_patch(Rectangle((lx0, ly0), lx1 - lx0, ly1 - ly0, facecolor='#a7bbe2', edgecolor='none', zorder=0))
axRp.add_patch(Polygon(R_dev_poly, closed=True, facecolor='#9fb2de', edgecolor='#0000ff', lw=0.8, zorder=1))
axRp.add_patch(Polygon(R_rth_poly, closed=True, facecolor='#8c3a3d', edgecolor='#0000ff', lw=0.9, zorder=1))
axRp.add_patch(Polygon(R_rth_tip, closed=True, facecolor='#ff6347', edgecolor='none', zorder=1))
for v in R_red_levels:
    axRp.axhline(v, color='#ff2020', lw=1.4, ls=(0, (1, 1.6)), zorder=2)
for v in R_blue_levels:
    axRp.axhline(v, color='#1010ff', lw=1.4, ls=(0, (1, 1.6)), zorder=2)
for v in R_green_levels:
    axRp.axhline(v, color='#108010', lw=1.4, ls=(0, (1, 1.6)), zorder=2)
for ln in R_orange:
    seg(axRp, ln, color='#ffa500', lw=1.0, zorder=2)
seg(axRp, R_mid_line, color='#0000ff', lw=0.9, zorder=2)
candles(axRp, R_open, R_high, R_low, R_close, 0.66, 2.0, edge_lw=0.8, min_h=0.006)
seg(axRp, R_trend, color='#0000ff', lw=2.6, zorder=6)
marks(axRp, R_arrows_up_green, arrow_up, '#00ff00', 20)
axRp.yaxis.tick_right()
axRp.set_yticks(R_price_ticks)
axRp.set_yticklabels(['%.2f' % v for v in R_price_ticks])
axRp.set_xticks([])
axRp.tick_params(axis='y', colors='black', labelsize=7.8, length=5, pad=2)
style(axRp, ['right', 'bottom'])
axRp.text(0.0, 0.972, 'howDeveloping,09:15,00:00,08:30,Eastern Standard Time), C', transform=axRp.transAxes,
          fontsize=8.3, color='black', va='center')
axRp.text(-0.006, 0.55, 'entry in middle\nof london range', transform=axRp.transAxes, fontsize=11.3,
          color='black', va='center', linespacing=1.2)

# ---------------- right indicator panel ----------------
axRi = panel(1203, 545, 1504, 718)
axRi.set_xlim(-0.36, 54.07)
axRi.set_ylim(6.47, 57.35)
axRi.axhline(R_ind_level, color='#a000d0', lw=1.0, zorder=1)
axRi.axhline(R_ind_zero, color='#0000ff', lw=2.6, zorder=1)
axRi.plot(R_green, color='#008000', lw=2.4, zorder=3)
axRi.plot(R_magenta, color='#ff00ff', lw=0.9, zorder=3)
axRi.plot(R_red, color='#b22222', lw=2.4, zorder=3)
axRi.plot(R_black, color='black', lw=1.6, zorder=4)
seg(axRi, R_ind_trend, color='#0000ff', lw=2.6, zorder=5)
axRi.yaxis.tick_right()
axRi.set_yticks(R_ind_ticks)
axRi.set_xticks([])
axRi.tick_params(axis='y', colors='black', labelsize=7.8, length=5, pad=2)
style(axRi, ['right', 'bottom'])

# ---------------- right volume panel ----------------
axRv = panel(1203, 718, 1504, 758)
axRv.set_xlim(-0.36, 54.07)
axRv.set_ylim(-369, 10983)
axRv.bar(np.arange(len(R_vol)), R_vol, 0.36, color='#0000ff', zorder=3)
axRv.axhline(0, color='#909090', lw=1, zorder=2)
axRv.yaxis.tick_right()
axRv.set_yticks([0])
axRv.set_xticks([])
axRv.tick_params(axis='y', colors='black', labelsize=7.8, length=5, pad=2)
style(axRv, ['right', 'bottom'])
top.text(1202, 772, '9', fontsize=8, color='#10106a', va='center')

# ---------------- value flags, buttons, shadows ----------------
flag(axLp, 621, L_close[-1], '%.2f' % L_close[-1], 'black')
flag(axLv, 621, L_vol[-1], str(L_vol[-1]), '#0000ff', w=20)
for (txt, col), val in zip(L_flags_left, (L_macd[-1], L_green[-1], L_avg[-1])):
    flag(axLm, 27, val, txt, col, left=False, w=40)
flag(axMp, 1129, M_close[-1], '%.2f' % M_close[-1], 'black')
flag(axMm, 1129, M_red[-1], '0.00946', '#b22222', w=52)
flag(axMm, 1129, M_macd[-1], '%.4f' % M_macd[-1], 'black', w=46)
flag(axMv, 1129, M_vol[-1], str(M_vol[-1]), '#0000ff', w=28)
for val, txt, fc, tc in R_flags:
    flag(axRp, 1505, val, txt, fc, tc, w=50, fs=8.3)
flag(axRi, 1505, R_magenta[-1], '%.2f' % R_magenta[-1], '#ff00ff', w=38, fs=8.3)
flag(axRv, 1505, R_vol[-1], str(R_vol[-1]), '#0000ff', w=38, fs=8.3)

dropdown(650, 92, 670, 112)
dropdown(1172, 28, 1193, 48)
dropdown(1537, 100, 1556, 119)
top.add_patch(Polygon([(1098, 40), (1098, 57), (1113, 48.5)], closed=True, facecolor='white',
                      edgecolor='black', lw=1, zorder=7))
box(top, 1114, 40, 1118, 57, 'white', ec='black', lw=1, z=7)
for k in range(6):
    box(top, 680 + k * 1.5, 28, 681.5 + k * 1.5, 795, 'black', z=1, alpha=0.10 - k * 0.015)

fig.savefig('out.png', dpi=100, facecolor='black')
